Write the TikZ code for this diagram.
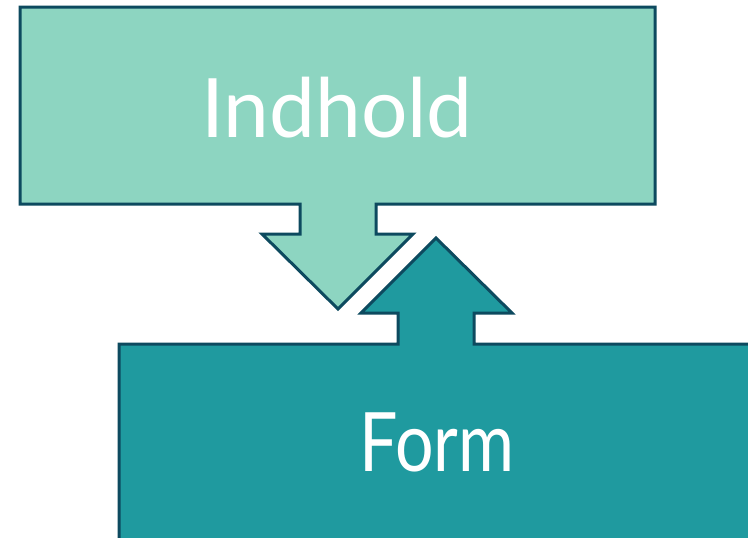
\documentclass[tikz,border=0pt]{standalone}
\usepackage{fontspec}
\setmainfont{Lato}
\definecolor{lightfill}{HTML}{8DD5C1}
\definecolor{darkfill}{HTML}{1F9A9F}
\definecolor{edge}{HTML}{0D4A5F}
\begin{document}
\begin{tikzpicture}[x=1pt,y=-1pt,
  shapeline/.style={draw=edge,line width=3pt,line join=miter},
  label/.style={text=white,font=\fontsize{82}{82}\selectfont,inner sep=0pt}]
\useasboundingbox (0,0) rectangle (748,538);
\clip (0,0) rectangle (748,538);
\fill[white] (0,0) rectangle (748,538);
\draw[shapeline,fill=lightfill] (20,7) -- (655,7) -- (655,204) -- (376,204) -- (376,234) -- (413,234) -- (338,309) -- (262,234) -- (300,234) -- (300,204) -- (20,204) -- cycle;
\draw[shapeline,fill=darkfill] (119,344) -- (398,344) -- (398,313) -- (361,313) -- (436,238) -- (512,313) -- (474,313) -- (474,344) -- (760,344) -- (760,560) -- (119,560) -- cycle;
\node[label,anchor=base] (indhold) at (337,137) {Indhold};
\node[label,anchor=base,xscale=0.83] (form) at (437,471) {Form};
\end{tikzpicture}
\end{document}
